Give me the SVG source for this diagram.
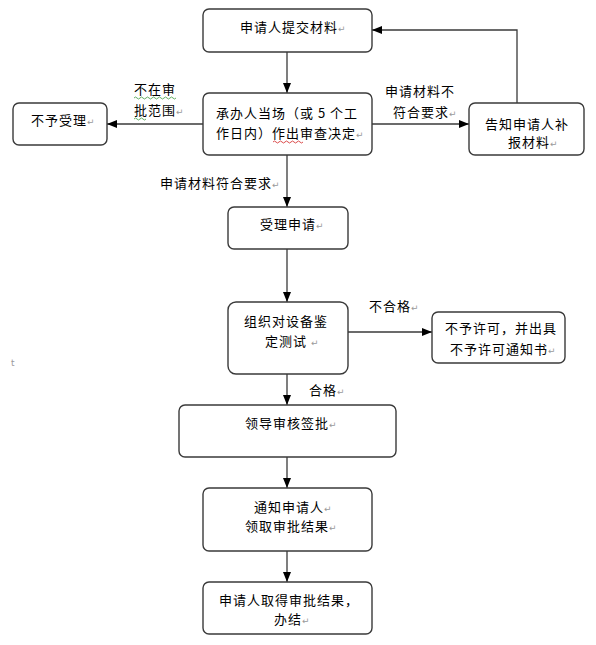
<svg xmlns="http://www.w3.org/2000/svg" width="596" height="645" viewBox="0 0 596 645">
<defs>
<style>
.box{fill:#fff;stroke:#3a3a3a;stroke-width:1.4}
.ln{fill:none;stroke:#3a3a3a;stroke-width:1.3}
.t{font-family:"Noto Sans CJK SC","Liberation Sans",sans-serif;font-size:13px;letter-spacing:1px;fill:#000}
.pm{font-family:"DejaVu Sans",sans-serif;font-size:9px;fill:#9a9a9a;letter-spacing:0}
.wg{fill:none;stroke:#3c9a3c;stroke-width:0.8}
.wr{fill:none;stroke:#d02020;stroke-width:0.8}
</style>
<marker id="ah" markerWidth="10" markerHeight="8" refX="10" refY="4" orient="auto" markerUnits="userSpaceOnUse">
<path d="M0,0 L10,4 L0,8 Z" fill="#000"/>
</marker>
</defs>
<rect width="596" height="645" fill="#fff"/>

<g id="connectors">
<path class="ln" d="M287,52 V93" marker-end="url(#ah)"/>
<path class="ln" d="M203,124 H107" marker-end="url(#ah)"/>
<path class="ln" d="M372,124 H469" marker-end="url(#ah)"/>
<path class="ln" d="M517,103 V30 H372" marker-end="url(#ah)"/>
<path class="ln" d="M287,155 V207" marker-end="url(#ah)"/>
<path class="ln" d="M287,249 V302" marker-end="url(#ah)"/>
<path class="ln" d="M348,332 H432" marker-end="url(#ah)"/>
<path class="ln" d="M287,374 V405" marker-end="url(#ah)"/>
<path class="ln" d="M287,457 V488" marker-end="url(#ah)"/>
<path class="ln" d="M287,551 V582" marker-end="url(#ah)"/>
</g>

<g id="labels">
<text class="t" x="134" y="94">不在审</text>
<text class="t" x="134" y="115">批范围<tspan class="pm">↵</tspan></text>
<path class="wg" d="M134,98 q1.5,-2 3,0 t3,0 t3,0 t3,0 t3,0 t3,0 t3,0 t3,0 t3,0 t3,0 t3,0 t3,0 t3,0 t3,0"/>
<path class="wg" d="M134,119 q1.5,-2 3,0 t3,0 t3,0 t3,0"/>
<text class="t" x="385" y="96">申请材料不</text>
<text class="t" x="393" y="117">符合要求<tspan class="pm">↵</tspan></text>
<text class="t" x="160" y="188">申请材料符合要求<tspan class="pm">↵</tspan></text>
<text class="t" x="369" y="311">不合格<tspan class="pm">↵</tspan></text>
<text class="t" x="309" y="395">合格<tspan class="pm">↵</tspan></text>
<text class="pm" x="11" y="366">t</text>
</g>

<g id="n1">
<rect class="box" x="203" y="9" width="169" height="43" rx="6"/>
<text class="t" x="240" y="32">申请人提交材料<tspan class="pm">↵</tspan></text>
</g>
<g id="n2">
<rect class="box" x="203" y="93" width="169" height="62" rx="6"/>
<text class="t" x="216" y="118">承办人当场（或 5 个工</text>
<text class="t" x="216" y="138">作日内）作出审查决定<tspan class="pm">↵</tspan></text>
<path class="wr" d="M273,142 q1.5,-2 3,0 t3,0 t3,0 t3,0 t3,0 t3,0 t3,0 t3,0 t3,0 t3,0"/>
</g>
<g id="n3">
<rect class="box" x="13" y="103" width="94" height="42" rx="6"/>
<text class="t" x="31" y="125">不予受理<tspan class="pm">↵</tspan></text>
</g>
<g id="n4">
<rect class="box" x="469" y="103" width="115" height="52" rx="6"/>
<text class="t" x="485" y="129">告知申请人补</text>
<text class="t" x="508" y="147">报材料<tspan class="pm">↵</tspan></text>
</g>
<g id="n5">
<rect class="box" x="228" y="207" width="120" height="42" rx="6"/>
<text class="t" x="260" y="229">受理申请<tspan class="pm">↵</tspan></text>
</g>
<g id="n6">
<rect class="box" x="228" y="302" width="120" height="72" rx="8"/>
<text class="t" x="244" y="326">组织对设备鉴</text>
<text class="t" x="265" y="346">定测试 <tspan class="pm">↵</tspan></text>
</g>
<g id="n7">
<rect class="box" x="432" y="312" width="133" height="51" rx="6"/>
<text class="t" x="445" y="333">不予许可，并出具</text>
<text class="t" x="450" y="354">不予许可通知书<tspan class="pm">↵</tspan></text>
</g>
<g id="n8">
<rect class="box" x="179" y="405" width="217" height="52" rx="6"/>
<text class="t" x="245" y="428">领导审核签批<tspan class="pm">↵</tspan></text>
</g>
<g id="n9">
<rect class="box" x="203" y="488" width="169" height="63" rx="6"/>
<text class="t" x="254" y="512">通知申请人<tspan class="pm">↵</tspan></text>
<text class="t" x="245" y="531">领取审批结果<tspan class="pm">↵</tspan></text>
</g>
<g id="n10">
<rect class="box" x="203" y="582" width="169" height="52" rx="6"/>
<text class="t" x="219" y="605">申请人取得审批结果，</text>
<text class="t" x="274" y="624">办结<tspan class="pm">↵</tspan></text>
</g>
</svg>
